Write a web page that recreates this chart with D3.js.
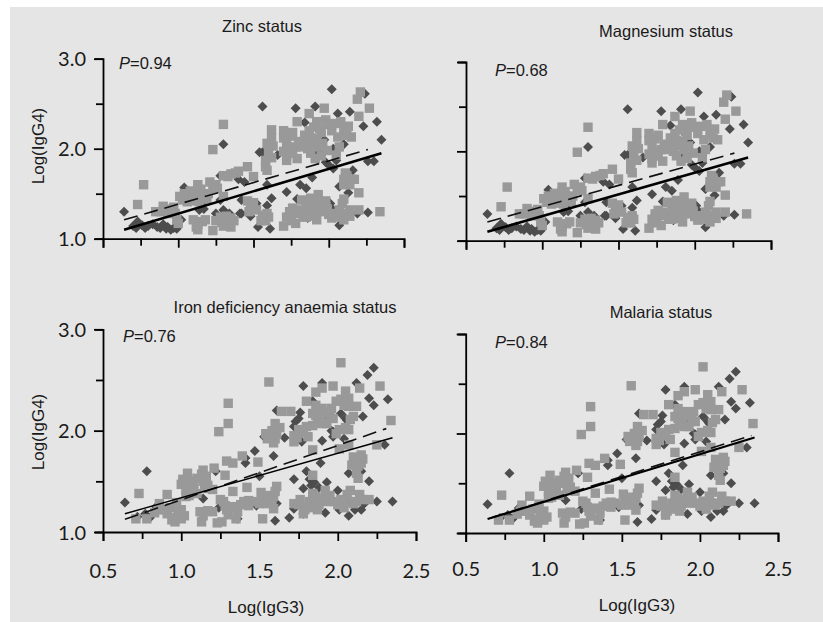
<!DOCTYPE html>
<html lang="en">
<head>
<meta charset="UTF-8">
<title>IgG3 vs IgG4 by nutritional status</title>
<script src="https://d3js.org/d3.v7.min.js"></script>
<style>
	html, body { margin: 0; padding: 0; background: #fff; }
	svg { display: block; }
	.lab { font-family: "Liberation Sans", Arial, sans-serif; font-size: 16.5px; fill: #1a1a1a; }
	.axlab { font-size: 17px; }
	.tick text { font-family: Lato, "Open Sans", sans-serif; font-size: 20px; fill: #1a1a1a; }
</style>
</head>
<body>
<div id="chart"></div>
<script>
// Zinc and magnesium panels show the same grouping of subjects
const groupADark = [[.64,1.30],[2.02,2.66],[2.24,2.61],[1.56,2.47],[1.78,2.45],[1.91,2.47],[2.06,2.39],[2.14,2.41],[2.32,2.30],[2.23,2.25],[2.35,2.10],[1.30,2.05],[1.84,2.29],[1.54,1.96],[1.66,1.93],[2.03,2.00],[1.04,1.57],[1.28,1.70],[1.81,1.60],[1.85,1.56],[1.72,1.52],[1.62,1.45],[1.59,1.37],[1.52,1.39],[1.42,1.43],[1.79,1.44],[2.07,1.58],[2.13,1.51],[2.16,1.76],[2.26,1.86],[2.30,1.86],[2.00,1.82],[1.89,1.68],[2.05,1.87],[1.53,1.13],[1.61,1.11],[2.26,1.29],[2.07,1.15],[2.19,1.28],[2.01,1.39],[1.91,1.24],[1.86,1.23],[1.41,1.28],[1.48,1.25],[1.34,1.28],[1.25,1.28],[1.14,1.32],[1.02,1.21],[.99,1.11],[.95,1.10],[.90,1.16],[.83,1.16],[.78,1.12],[.72,1.12],[.73,1.19],[.93,1.13],[1.90,1.95],[1.97,2.10],[1.40,1.66],[1.17,1.47],[1.03,1.47],[2.10,1.28],[2.03,1.32],[1.28,1.43],[1.56,1.96],[1.59,1.60],
	[.70,1.14],[.76,1.15],[.80,1.14],[.86,1.13],[.88,1.12],[.92,1.11],[.97,1.12],[1.00,1.19],[1.06,1.50],[1.16,1.40],[1.17,1.33],[1.94,1.96],[1.98,1.85],[2.03,1.78],[2.10,2.05],[1.86,2.00],[1.42,1.28],[1.30,1.32],[1.44,1.63]];
const groupALight = [[.77,1.60],[.73,1.38],[1.30,2.27],[1.23,1.99],[2.21,2.63],[2.19,2.55],[2.27,2.45],[2.20,2.36],[1.97,2.45],[1.87,2.39],[1.79,2.30],[1.62,2.21],[1.70,2.20],[1.76,2.18],[1.98,2.32],[2.04,2.28],[2.13,2.25],[1.90,2.24],[1.84,2.15],[1.59,2.06],[1.72,2.06],[2.15,2.13],[2.06,2.13],[1.92,2.11],[1.82,2.02],[1.72,1.87],[1.79,1.89],[1.91,1.89],[1.58,1.87],[1.59,1.76],[1.46,1.80],[1.40,1.75],[1.33,1.69],[1.50,1.69],[1.21,1.63],[1.26,1.56],[1.13,1.60],[1.01,1.47],[1.10,1.47],[1.19,1.44],[2.11,1.73],[2.15,1.66],[2.10,1.60],[2.20,1.51],[.90,1.36],[.85,1.30],[.99,1.21],[1.13,1.16],[1.13,1.10],[1.18,1.21],[1.23,1.09],[1.28,1.24],[1.35,1.23],[1.35,1.13],[1.48,1.36],[1.56,1.26],[1.59,1.28],[1.70,1.14],[1.76,1.34],[1.78,1.17],[1.83,1.24],[1.82,1.43],[1.89,1.39],[1.93,1.49],[1.96,1.39],[1.92,1.21],[2.02,1.23],[2.09,1.39],[2.10,1.21],[2.14,1.32],[2.20,1.32],[2.34,1.30],[2.07,2.02],[1.93,2.02],[1.74,1.95],[1.30,1.47],[1.79,1.32],[1.90,1.38],[1.98,1.36],[2.05,1.28],[1.06,1.41],[1.14,1.41],[.97,1.35],
	[1.62,2.12],[1.63,2.03],[1.60,1.97],[1.62,1.90],[1.58,1.80],[1.74,2.14],[1.70,2.12],[1.73,2.00],[1.70,1.97],[1.72,1.92],[1.80,2.08],[1.78,2.02],[1.76,1.95],[1.84,2.08],[1.86,2.00],[1.87,2.20],[1.88,2.12],[1.90,2.06],[1.95,2.18],[1.96,2.06],[1.92,2.30],[1.94,2.22],[2.00,2.27],[2.02,2.20],[2.10,2.20],[2.08,2.30],[2.12,2.15],[1.99,1.98],[2.05,1.93],[1.88,1.95],[1.95,1.92],[2.12,1.70],[2.14,1.60],[2.17,1.66],[2.10,1.66],
	[1.74,1.30],[1.78,1.28],[1.72,1.24],[1.75,1.20],[1.82,1.30],[1.85,1.40],[1.86,1.33],[1.88,1.45],[1.90,1.30],[1.92,1.42],[1.94,1.34],[1.96,1.30],[1.98,1.42],[1.99,1.33],[1.90,1.25],[2.07,1.32],[2.10,1.44],[2.12,1.28],[2.08,1.24],[2.14,1.25],[2.00,1.27],[1.85,1.24],
	[1.25,1.20],[1.29,1.18],[1.32,1.25],[1.37,1.20],[1.30,1.14],[1.16,1.19],[1.10,1.21],[1.12,1.13],[1.47,1.30],[1.52,1.32],[1.55,1.20],[1.58,1.20],[1.60,1.24],[1.50,1.40],[1.46,1.42],
	[1.04,1.50],[1.08,1.53],[1.12,1.52],[1.15,1.55],[1.03,1.43],[1.09,1.42],[1.16,1.46],[1.20,1.50],[.98,1.28],[1.00,1.17],[.93,1.28],[.88,1.30],[.95,1.33],[1.23,1.58],[1.13,1.55],[1.35,1.72],[1.38,1.73],[1.30,1.70],[1.25,1.60]];

// Iron and malaria panels show a second grouping
const groupBDark = [[.64,1.29],[.78,1.60],[1.78,2.44],[1.90,2.47],[2.12,2.47],[2.23,2.62],[2.19,2.55],[2.20,2.32],[2.23,2.25],[2.32,2.31],[2.16,2.14],[2.05,2.12],[2.09,2.24],[1.84,2.29],[1.61,2.20],[1.76,2.18],[1.72,2.04],[1.66,1.93],[1.53,1.94],[1.47,1.80],[1.41,1.68],[1.59,1.75],[1.90,1.90],[1.97,1.94],[2.04,1.92],[1.89,1.68],[1.80,1.60],[1.72,1.52],[2.07,1.58],[2.20,1.50],[1.93,1.49],[1.83,1.46],[1.78,1.43],[2.00,1.41],[2.25,1.30],[2.35,1.30],[2.30,1.86],[1.60,1.11],[1.69,1.14],[2.07,1.16],[2.01,1.22],[1.92,1.19],[2.11,1.22],[2.17,1.28],[1.78,1.18],[1.72,1.23],[1.61,1.28],[1.48,1.26],[1.36,1.13],[1.24,1.24],[1.22,1.60],[1.14,1.33],[.72,1.15],[.84,1.25],[1.41,1.73],[1.73,2.09],[1.97,1.99],[1.77,1.89],[2.06,2.10],
	[1.80,2.03],[1.96,2.00],[1.93,2.12],[2.02,2.17],[1.75,2.12],[.77,1.18],[.80,1.14],[1.88,1.44],[1.85,1.49],[1.82,1.52],[1.50,1.55],[2.15,1.60],[2.15,1.22]];
const groupBLight = [[.73,1.38],[1.30,2.27],[1.30,2.07],[1.24,1.99],[1.56,2.48],[2.02,2.67],[2.27,2.44],[1.97,2.44],[2.05,2.39],[2.14,2.42],[1.86,2.38],[1.90,2.42],[1.80,2.29],[1.99,2.29],[2.07,2.32],[2.12,2.24],[2.34,2.10],[1.64,2.19],[1.70,2.19],[1.84,2.17],[1.90,2.22],[1.89,2.12],[1.95,2.14],[2.08,2.11],[1.75,2.01],[1.80,2.04],[1.60,2.07],[1.54,1.97],[1.61,1.97],[1.59,1.88],[1.72,1.89],[1.81,1.94],[2.01,2.01],[2.07,2.01],[2.07,1.86],[1.84,1.81],[2.01,1.82],[2.25,1.86],[1.39,1.75],[1.29,1.70],[1.33,1.68],[1.49,1.69],[1.21,1.63],[1.28,1.56],[1.14,1.61],[1.04,1.58],[1.00,1.47],[1.14,1.50],[1.17,1.46],[1.08,1.41],[1.03,1.35],[1.33,1.40],[1.42,1.44],[1.61,1.45],[1.84,1.56],[2.15,1.76],[2.15,1.68],[2.13,1.53],[.91,1.37],[.86,1.28],[.78,1.13],[.71,1.13],[.83,1.19],[.94,1.12],[.91,1.18],[1.00,1.22],[1.13,1.10],[1.17,1.21],[1.12,1.20],[1.23,1.09],[1.26,1.10],[1.27,1.30],[1.29,1.22],[1.36,1.20],[1.43,1.31],[1.51,1.39],[1.52,1.32],[1.59,1.23],[1.52,1.13],[1.59,1.35],[1.72,1.28],[1.78,1.18],[1.85,1.27],[1.84,1.38],[1.90,1.33],[1.92,1.41],[1.98,1.30],[2.08,1.41],[2.07,1.30],[2.14,1.37],[2.20,1.32],[2.12,1.30],[1.76,1.32],
	[1.55,1.92],[1.58,2.00],[1.63,2.03],[1.57,1.95],[1.60,1.92],[1.74,1.93],[1.72,1.95],[1.78,1.98],[1.84,2.05],[1.86,2.15],[1.88,2.20],[1.92,2.18],[1.87,2.08],[1.90,2.07],[1.93,2.07],[1.97,2.12],[1.96,2.22],[1.86,2.25],[2.02,2.31],[2.04,2.25],[2.07,2.24],[2.05,2.03],[1.99,1.97],[2.10,2.14],[2.12,1.71],[2.13,1.65],[2.10,1.74],[2.16,1.72],[2.12,1.58],[2.09,1.66],
	[1.25,1.32],[1.28,1.26],[1.33,1.25],[1.38,1.27],[1.40,1.30],[1.43,1.26],[1.46,1.30],[1.50,1.28],[1.55,1.28],[1.58,1.30],[1.56,1.36],[1.60,1.40],[1.30,1.17],[1.35,1.13],
	[1.75,1.27],[1.80,1.25],[1.82,1.30],[1.86,1.35],[1.88,1.27],[1.87,1.22],[1.93,1.30],[1.95,1.36],[2.00,1.27],[2.02,1.32],[2.04,1.24],[2.06,1.37],[2.10,1.28],[2.16,1.32],[1.79,1.22],[1.84,1.24],
	[1.01,1.52],[1.05,1.50],[1.08,1.48],[1.10,1.53],[1.13,1.57],[1.16,1.55],[1.20,1.42],[1.03,1.42],[1.10,1.38],[1.05,1.36],[1.15,1.43],[.98,1.20],[.96,1.14],[1.02,1.16],[.93,1.24],[.88,1.22],[.97,1.29],[.85,1.22],[1.00,1.13],[.96,1.10],[1.14,1.16],[1.20,1.20]];

// Regression lines as [x0, y0, x1, y1]
const zincSolid = [.64,1.10,2.35,1.95];
const zincDashed = [.64,1.21,2.26,1.99];
const magnesiumSolid = [.64,1.10,2.35,1.93];
const magnesiumDashed = [.64,1.21,2.26,1.98];
const ironSolid = [.64,1.18,2.35,1.93];
const ironDashed = [.64,1.125,2.31,2.02];
const malariaSolid = [.64,1.14,2.35,1.96];
const malariaDashed = [.66,1.15,2.33,1.98];

const xTicks = [0.5, 0.75, 1, 1.25, 1.5, 1.75, 2, 2.25, 2.5];
const yTicks = [1, 1.5, 2, 2.5, 3];

const panels = [
	{ title: 'Zinc status', p: '0.94', dark: groupADark, light: groupALight, solid: zincSolid, dashed: zincDashed, solidW: 2.6,
		x: [103, 404], y: [238.7, 58.7], titleAt: [262, 32], pAt: [119, 69], yLabel: [146, 44] },
	{ title: 'Magnesium status', p: '0.68', dark: groupADark, light: groupALight, solid: magnesiumSolid, dashed: magnesiumDashed, solidW: 2.6,
		x: [466, 771], y: [240.7, 62], titleAt: [666, 37], pAt: [495, 76] },
	{ title: 'Iron deficiency anaemia status', p: '0.76', dark: groupBDark, light: groupBLight, solid: ironSolid, dashed: ironDashed, solidW: 1.4,
		x: [103, 416], y: [532, 329.3], titleAt: [285, 313], pAt: [123, 342], yLabel: [432, 44], xLabel: [266, 613], xBase: 578 },
	{ title: 'Malaria status', p: '0.84', dark: groupBDark, light: groupBLight, solid: malariaSolid, dashed: malariaDashed, solidW: 2.2,
		x: [465.7, 778], y: [533, 334], titleAt: [661, 318], pAt: [495, 348], xLabel: [637, 611], xBase: 576 }
];

const svg = d3.select('#chart').append('svg').attr('width', 823).attr('height', 622);

svg.append('rect').attr('x', 10).attr('y', 7).attr('width', 813).attr('height', 615).attr('fill', '#e5e5e5');

const diamond = d3.symbol().type(d3.symbolSquare).size(50)();

panels.forEach(function (p) {
	const xScale = d3.scaleLinear().domain([0.5, 2.5]).range(p.x);
	const yScale = d3.scaleLinear().domain([1, 3]).range(p.y);
	const g = svg.append('g');

	// Diamonds go under the squares
	g.selectAll('path.dark').data(p.dark).enter().append('path')
		.attr('class', 'dark')
		.attr('d', diamond)
		.attr('transform', d => `translate(${xScale(d[0])},${yScale(d[1])}) rotate(45)`)
		.attr('fill', '#4d4d4d');

	g.selectAll('rect.light').data(p.light).enter().append('rect')
		.attr('class', 'light')
		.attr('x', d => xScale(d[0]) - 4.7)
		.attr('y', d => yScale(d[1]) - 4.7)
		.attr('width', 9.4)
		.attr('height', 9.4)
		.attr('fill', '#999999');

	// Regression lines
	g.append('line')
		.attr('x1', xScale(p.dashed[0])).attr('y1', yScale(p.dashed[1]))
		.attr('x2', xScale(p.dashed[2])).attr('y2', yScale(p.dashed[3]))
		.attr('stroke', '#111').attr('stroke-width', 1.6).attr('stroke-dasharray', '14 7');
	g.append('line')
		.attr('x1', xScale(p.solid[0])).attr('y1', yScale(p.solid[1]))
		.attr('x2', xScale(p.solid[2])).attr('y2', yScale(p.solid[3]))
		.attr('stroke', '#000').attr('stroke-width', p.solidW);

	// Axes
	const xAxis = d3.axisBottom(xScale).tickValues(xTicks).tickSizeOuter(0).tickSize(9)
		.tickFormat(d => (p.xBase && d * 2 === Math.round(d * 2)) ? d3.format('.1f')(d) : '');
	const yAxis = d3.axisLeft(yScale).tickValues(yTicks).tickSizeOuter(0).tickSize(8)
		.tickFormat(d => (p.yLabel && Number.isInteger(d)) ? d3.format('.1f')(d) : '');

	const gx = g.append('g').attr('transform', `translate(0,${p.y[0]})`).call(xAxis);
	const gy = g.append('g').attr('transform', `translate(${p.x[0]},0)`).call(yAxis);
	[gx, gy].forEach(a => {
		a.selectAll('path, line').attr('stroke', '#000').attr('stroke-width', 1.8);
		a.select('.domain').attr('fill', 'none');
	});
	gx.selectAll('.tick line').attr('y2', d => d * 2 === Math.round(d * 2) ? 9 : 7);
	gy.selectAll('.tick line').attr('x2', d => Number.isInteger(d) ? -9 : -7);
	if (p.xBase) gx.selectAll('.tick text').attr('y', 0).attr('dy', 0).attr('transform', `translate(0,${p.xBase - p.y[0]})`);
	gy.selectAll('.tick text').attr('x', -17).attr('dy', '0.36em');

	// Text
	g.append('text').attr('class', 'lab').attr('text-anchor', 'middle')
		.attr('x', p.titleAt[0]).attr('y', p.titleAt[1]).text(p.title);
	const pText = g.append('text').attr('class', 'lab').attr('x', p.pAt[0]).attr('y', p.pAt[1]);
	pText.append('tspan').attr('font-style', 'italic').text('P');
	pText.append('tspan').text('=' + p.p);
	if (p.yLabel) {
		g.append('text').attr('class', 'lab axlab').attr('text-anchor', 'middle')
			.attr('transform', `translate(${p.yLabel[1]},${p.yLabel[0]}) rotate(-90)`)
			.text('Log(IgG4)');
	}
	if (p.xLabel) {
		g.append('text').attr('class', 'lab axlab').attr('text-anchor', 'middle')
			.attr('x', p.xLabel[0]).attr('y', p.xLabel[1]).text('Log(IgG3)');
	}
});
</script>
</body>
</html>
